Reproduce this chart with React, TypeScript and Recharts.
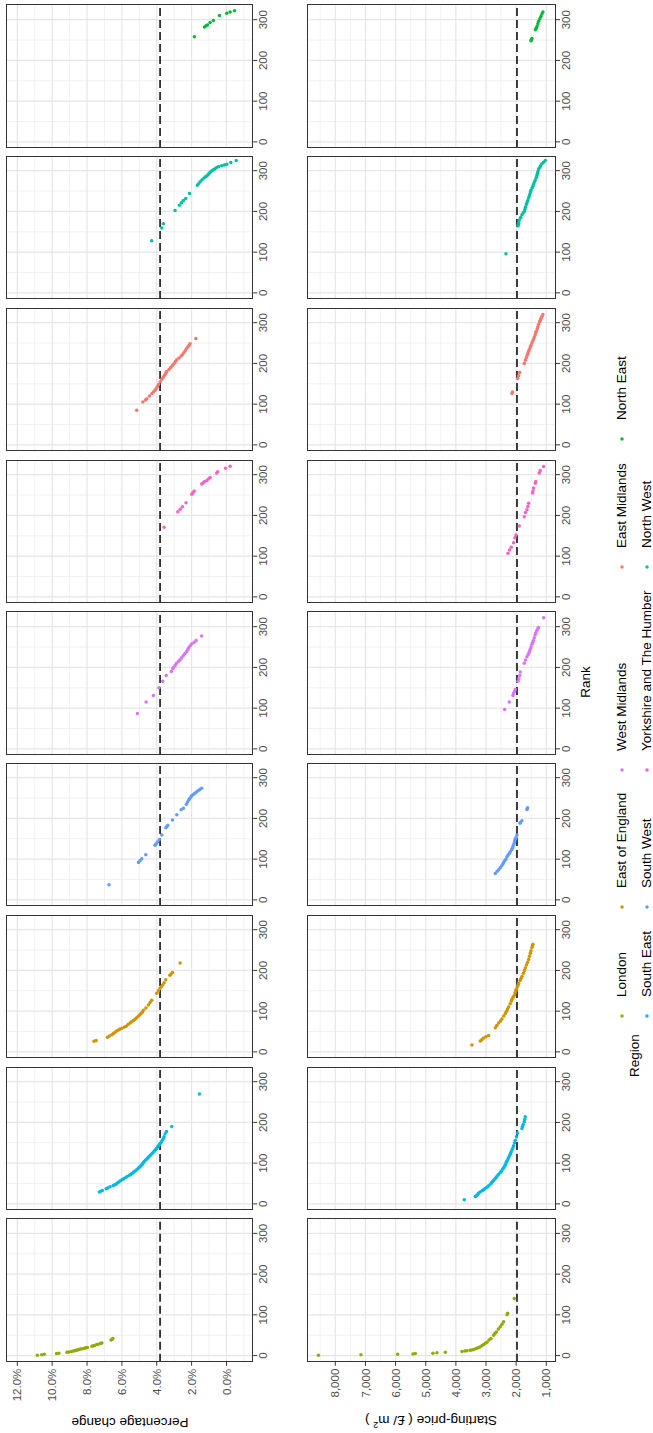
import React from 'react';
import { ScatterChart, Scatter, XAxis, YAxis, ReferenceLine } from 'recharts';

// [rank, percentage change]
const londonPct = [[1,10.85],[2,10.6],[3,10.45],[5,9.75],[6,9.62],[8,9.15],[9,9.05],[10,8.9],[11,8.78],[12,8.7],[13,8.62],[14,8.55],[15,8.46],[16,8.38],[17,8.28],[18,8.15],[19,8.08],[20,7.98],[23,7.72],[24,7.63],[25,7.56],[27,7.45],[28,7.35],[30,7.22],[31,7.15],[38,6.62],[40,6.56],[42,6.52]];
const southEastPct = [[29,7.29],[31,7.22],[33,7.12],[37,6.9],[39,6.82],[42,6.68],[45,6.5],[47,6.4],[49,6.33],[52,6.24],[54,6.18],[57,6.08],[60,5.98],[62,5.9],[65,5.78],[67,5.7],[70,5.57],[72,5.5],[75,5.4],[78,5.32],[81,5.24],[84,5.15],[87,5.07],[90,5.0],[92,4.95],[95,4.88],[98,4.82],[101,4.77],[104,4.72],[107,4.65],[110,4.57],[113,4.51],[116,4.45],[119,4.38],[122,4.31],[125,4.24],[128,4.17],[131,4.11],[134,4.05],[137,3.99],[140,3.94],[143,3.9],[146,3.84],[149,3.79],[152,3.74],[156,3.68],[160,3.63],[165,3.58],[172,3.52],[178,3.44],[190,3.14],[270,1.55]];
const eastEnglandPct = [[26,7.6],[28,7.48],[36,6.83],[39,6.72],[42,6.58],[45,6.48],[48,6.39],[51,6.3],[54,6.2],[56,6.1],[58,6.0],[61,5.85],[63,5.76],[67,5.65],[71,5.53],[74,5.45],[77,5.34],[80,5.25],[84,5.15],[88,5.05],[91,4.96],[95,4.88],[98,4.82],[102,4.77],[108,4.62],[115,4.48],[121,4.38],[127,4.29],[144,4.0],[150,3.9],[156,3.81],[160,3.74],[164,3.66],[170,3.58],[177,3.48],[188,3.25],[191,3.18],[195,3.1],[218,2.66]];
const southWestPct = [[37,6.74],[92,5.05],[96,4.96],[101,4.86],[111,4.63],[134,4.1],[138,4.03],[142,3.96],[148,3.85],[159,3.71],[177,3.48],[180,3.42],[183,3.37],[196,3.1],[209,2.85],[221,2.6],[225,2.47],[235,2.3],[240,2.23],[245,2.16],[248,2.12],[252,2.05],[256,1.99],[259,1.9],[262,1.82],[265,1.72],[268,1.63],[271,1.53],[274,1.42]];
const westMidlandsPct = [[87,5.11],[115,4.61],[131,4.19],[150,3.87],[166,3.66],[180,3.46],[190,3.16],[197,3.08],[200,3.04],[205,2.95],[210,2.86],[215,2.75],[219,2.66],[224,2.57],[229,2.47],[234,2.38],[239,2.28],[244,2.22],[248,2.17],[253,2.08],[258,1.99],[262,1.85],[266,1.74],[277,1.42]];
const yorkshirePct = [[171,3.58],[209,2.79],[215,2.66],[221,2.53],[231,2.32],[252,1.99],[256,1.92],[260,1.85],[277,1.42],[280,1.33],[283,1.25],[286,1.12],[290,1.02],[293,0.94],[304,0.56],[307,0.5],[316,0.05],[321,-0.21]];
const eastMidlandsPct = [[85,5.15],[105,4.8],[110,4.65],[113,4.57],[120,4.42],[126,4.28],[130,4.19],[134,4.1],[138,4.04],[143,3.97],[148,3.9],[155,3.8],[161,3.71],[166,3.63],[170,3.57],[173,3.52],[178,3.46],[180,3.43],[185,3.3],[190,3.2],[195,3.1],[200,3.0],[205,2.93],[209,2.85],[213,2.72],[218,2.6],[221,2.53],[226,2.45],[231,2.37],[236,2.3],[240,2.22],[244,2.15],[248,2.09],[261,1.76]];
const northWestPct = [[128,4.29],[159,3.71],[170,3.62],[202,2.95],[215,2.7],[221,2.58],[227,2.47],[232,2.34],[244,2.12],[264,1.67],[268,1.6],[273,1.51],[278,1.4],[282,1.28],[285,1.2],[287,1.13],[290,1.06],[293,1.0],[296,0.94],[299,0.85],[302,0.75],[305,0.66],[308,0.56],[310,0.45],[312,0.27],[314,0.12],[316,-0.02],[320,-0.25],[325,-0.56]];
const northEastPct = [[258,1.84],[282,1.26],[285,1.17],[287,1.09],[293,0.94],[298,0.75],[310,0.4],[316,-0.02],[319,-0.21],[322,-0.46]];

// [rank, starting price £/m2]
const londonPrice = [[1,8560],[2,7149],[3,5932],[4,5423],[5,5346],[6,4760],[7,4627],[8,4350],[10,3798],[11,3700],[12,3632],[13,3522],[14,3470],[15,3411],[17,3340],[18,3300],[20,3240],[22,3190],[25,3130],[27,3079],[30,3020],[33,2969],[38,2900],[42,2836],[50,2748],[55,2700],[58,2659],[65,2590],[71,2526],[77,2470],[83,2416],[100,2300],[104,2283],[140,2062]];
const southEastPrice = [[10,3720],[18,3356],[20,3320],[22,3290],[25,3260],[27,3245],[30,3180],[33,3120],[35,3079],[38,3030],[41,2969],[44,2920],[48,2858],[52,2810],[55,2780],[58,2748],[62,2700],[65,2665],[68,2637],[72,2590],[77,2526],[80,2495],[85,2450],[89,2416],[93,2380],[97,2350],[102,2327],[106,2300],[110,2270],[114,2250],[118,2220],[122,2195],[127,2172],[132,2140],[137,2110],[143,2084],[150,2055],[156,2029],[165,1990],[174,1951],[185,1808],[190,1790],[195,1765],[202,1730],[208,1712],[214,1697]];
const eastEnglandPrice = [[17,3466],[27,3190],[30,3140],[34,3079],[37,3000],[40,2913],[59,2692],[65,2640],[71,2582],[76,2520],[81,2471],[88,2410],[94,2360],[100,2320],[105,2285],[110,2250],[118,2200],[125,2160],[129,2139],[134,2100],[139,2062],[145,2035],[150,2010],[154,1995],[160,1960],[164,1935],[168,1918],[175,1870],[180,1840],[185,1808],[193,1760],[200,1725],[206,1697],[213,1660],[220,1620],[227,1586],[235,1560],[242,1530],[248,1509],[256,1475],[260,1458],[264,1443]];
const southWestPrice = [[65,2692],[70,2630],[74,2580],[79,2526],[84,2480],[88,2440],[92,2416],[96,2380],[100,2340],[106,2305],[110,2270],[114,2225],[118,2195],[123,2150],[127,2125],[131,2106],[136,2080],[141,2060],[145,2045],[149,2029],[153,2005],[159,1973],[188,1870],[190,1863],[194,1808],[222,1642],[224,1630],[226,1620]];
const westMidlandsPrice = [[97,2383],[115,2228],[131,2106],[136,2085],[141,2055],[146,2029],[166,1940],[172,1910],[180,1880],[189,1863],[210,1730],[218,1690],[226,1642],[232,1600],[236,1575],[240,1553],[245,1530],[250,1505],[257,1476],[262,1450],[266,1425],[273,1398],[280,1370],[285,1345],[291,1310],[296,1270],[298,1255],[322,1089]];
const yorkshirePrice = [[107,2272],[115,2220],[122,2161],[133,2084],[145,2040],[152,2007],[174,1896],[197,1730],[207,1690],[214,1642],[222,1612],[230,1586],[255,1454],[260,1440],[267,1421],[279,1365],[283,1350],[304,1233],[310,1200],[320,1089]];
const eastMidlandsPrice = [[126,2139],[130,2120],[163,1951],[170,1920],[178,1885],[200,1730],[208,1695],[214,1664],[220,1635],[225,1610],[230,1586],[235,1560],[240,1530],[244,1509],[250,1480],[255,1450],[260,1420],[265,1395],[270,1370],[275,1350],[279,1332],[285,1300],[290,1280],[296,1255],[302,1220],[306,1200],[310,1178],[315,1145],[320,1111]];
const northWestPrice = [[96,2338],[164,1940],[168,1920],[172,1912],[179,1896],[185,1850],[192,1808],[196,1770],[200,1730],[205,1710],[210,1690],[217,1664],[222,1640],[227,1615],[233,1586],[238,1565],[243,1545],[248,1525],[252,1509],[258,1470],[263,1440],[267,1420],[272,1395],[277,1365],[283,1332],[288,1310],[293,1295],[298,1275],[304,1255],[308,1220],[312,1190],[317,1144],[321,1090],[325,1033]];
const northEastPrice = [[248,1509],[251,1495],[254,1476],[275,1365],[279,1335],[283,1310],[290,1280],[296,1255],[302,1215],[308,1178],[314,1145],[319,1111]];

const regions = [
  { name: 'London', color: '#93AA00', pct: londonPct, price: londonPrice },
  { name: 'South East', color: '#00B9E3', pct: southEastPct, price: southEastPrice },
  { name: 'East of England', color: '#D39200', pct: eastEnglandPct, price: eastEnglandPrice },
  { name: 'South West', color: '#619CFF', pct: southWestPct, price: southWestPrice },
  { name: 'West Midlands', color: '#DB72FB', pct: westMidlandsPct, price: westMidlandsPrice },
  { name: 'Yorkshire and The Humber', color: '#FF61C3', pct: yorkshirePct, price: yorkshirePrice },
  { name: 'East Midlands', color: '#F8766D', pct: eastMidlandsPct, price: eastMidlandsPrice },
  { name: 'North West', color: '#00C19F', pct: northWestPct, price: northWestPrice },
  { name: 'North East', color: '#00BA38', pct: northEastPct, price: northEastPrice },
];

// legend rows as drawn (two rows, five columns)
const legendRows = [
  ['London', 'East of England', 'West Midlands', 'East Midlands', 'North East'],
  ['South East', 'South West', 'Yorkshire and The Humber', 'North West'],
];
const legendKeyX = [417, 526, 663, 866, 994];
const legendRowY = [622, 647];

const rankTicks = [0, 100, 200, 300];
const rankMinor = [50, 150, 250];
const pctTicks = [0, 2, 4, 6, 8, 10, 12];
const pctMinor = [-1, 1, 3, 5, 7, 9, 11];
const priceTicks = [1000, 2000, 3000, 4000, 5000, 6000, 7000, 8000];
const priceMinor = [1500, 2500, 3500, 4500, 5500, 6500, 7500, 8500];

const FONT = '"Liberation Sans", Arial, Helvetica, sans-serif';
const W = 1433;
const H = 653;
const PANEL_X0 = 71.3;
const PANEL_STEP = 151.75;
const PANEL_W = 143.4;
const AXIS_H = 22;

const rowCfg = [
  {
    top: 6, height: 247.3, domain: [-1.54, 12.65], ticks: pctTicks, minor: pctMinor,
    median: 3.81, fmt: (v: number) => v.toFixed(1) + '%',
  },
  {
    top: 306.7, height: 249, domain: [678, 8939], ticks: priceTicks, minor: priceMinor,
    median: 1972, fmt: (v: number) => v.toLocaleString('en-US'),
  },
];

const tickStyle = { fontSize: 11.5, fill: '#4d4d4d', fontFamily: FONT };

function Panel({ row, col }: { row: number; col: number }) {
  const region = regions[col];
  const cfg = rowCfg[row];
  const first = col === 0;
  const yw = first ? PANEL_X0 : 0;
  const left = first ? 0 : PANEL_X0 + PANEL_STEP * col;
  const w = yw + PANEL_W;
  const h = cfg.height + AXIS_H;
  const data = (row === 0 ? region.pct : region.price).map(([rank, value]) => ({ rank, value }));

  return (
    <div style={{ position: 'absolute', left, top: cfg.top, width: w, height: h }}>
      <ScatterChart width={w} height={h} margin={{ top: 0, right: 0, bottom: 0, left: 0 }}>
        <XAxis
          type="number" dataKey="rank" domain={[-15, 337]} ticks={rankTicks} allowDataOverflow interval={0}
          height={AXIS_H} axisLine={false} tickSize={4} tickMargin={2}
          tickLine={{ stroke: '#333' }} tick={tickStyle}
        />
        <YAxis
          type="number" dataKey="value" domain={cfg.domain} ticks={cfg.ticks} allowDataOverflow interval={0}
          width={yw} hide={!first} axisLine={false} tickSize={4} tickMargin={3}
          tickLine={{ stroke: '#333' }} tick={tickStyle} tickFormatter={cfg.fmt}
        />
        {rankMinor.map((v) => <ReferenceLine key={'xm' + v} x={v} stroke="#EBEBEB" strokeWidth={0.7} />)}
        {cfg.minor.map((v) => <ReferenceLine key={'ym' + v} y={v} stroke="#EBEBEB" strokeWidth={0.7} />)}
        {rankTicks.map((v) => <ReferenceLine key={'xM' + v} x={v} stroke="#E6E6E6" strokeWidth={1.2} />)}
        {cfg.ticks.map((v) => <ReferenceLine key={'yM' + v} y={v} stroke="#E6E6E6" strokeWidth={1.2} />)}
        <ReferenceLine y={cfg.median} stroke="#000" strokeWidth={1.5} strokeDasharray="8 4" />
        <Scatter
          data={data}
          fill={region.color}
          isAnimationActive={false}
          shape={(p: any) => <circle cx={p.cx} cy={p.cy} r={1.75} fill={region.color} />}
        />
      </ScatterChart>
      <div
        style={{
          position: 'absolute', left: yw, top: 0, width: PANEL_W, height: cfg.height,
          border: '1px solid #333', boxSizing: 'border-box', pointerEvents: 'none',
        }}
      />
    </div>
  );
}

const centered = (x: number, y: number, rotate = 0): React.CSSProperties => ({
  position: 'absolute', left: x, top: y, whiteSpace: 'nowrap', lineHeight: 1,
  transform: `translate(-50%, -50%) rotate(${rotate}deg)`,
});

export default function App() {
  return (
    <div style={{ position: 'absolute', left: 0, top: 0, width: H, height: W, overflow: 'hidden', background: '#fff' }}>
      <div
        style={{
          position: 'absolute', left: 0, top: 0, width: W, height: H, transformOrigin: '0 0',
          transform: `translate(0px, ${W}px) rotate(-90deg)`, fontFamily: FONT, color: '#000',
        }}
      >
        {rowCfg.map((_, r) => regions.map((_, c) => <Panel key={r + '-' + c} row={r} col={c} />))}

        <div style={{ ...centered(11, 129.6, -90), fontSize: 13.5 }}>Percentage change</div>
        <div style={{ ...centered(12, 431, -90), fontSize: 13.5 }}>
          Starting-price ( £/ m<span style={{ fontSize: 9, verticalAlign: 'super' }}>2</span> )
        </div>
        <div style={{ ...centered(751, 586), fontSize: 13.5 }}>Rank</div>

        <div style={{ position: 'absolute', left: 356, top: 635, transform: 'translateY(-50%)', fontSize: 13.5, lineHeight: 1 }}>
          Region
        </div>
        {legendRows.map((names, ri) =>
          names.map((name, ci) => {
            const reg = regions.find((g) => g.name === name)!;
            const kx = legendKeyX[ci];
            const ky = legendRowY[ri];
            return (
              <React.Fragment key={name}>
                <svg width={6} height={6} style={{ position: 'absolute', left: kx - 3, top: ky - 3 }}>
                  <circle cx={3} cy={3} r={1.75} fill={reg.color} />
                </svg>
                <div
                  style={{
                    position: 'absolute', left: kx + 19, top: ky, transform: 'translateY(-50%)',
                    fontSize: 13.5, lineHeight: 1, whiteSpace: 'nowrap',
                  }}
                >
                  {name}
                </div>
              </React.Fragment>
            );
          })
        )}
      </div>
    </div>
  );
}
